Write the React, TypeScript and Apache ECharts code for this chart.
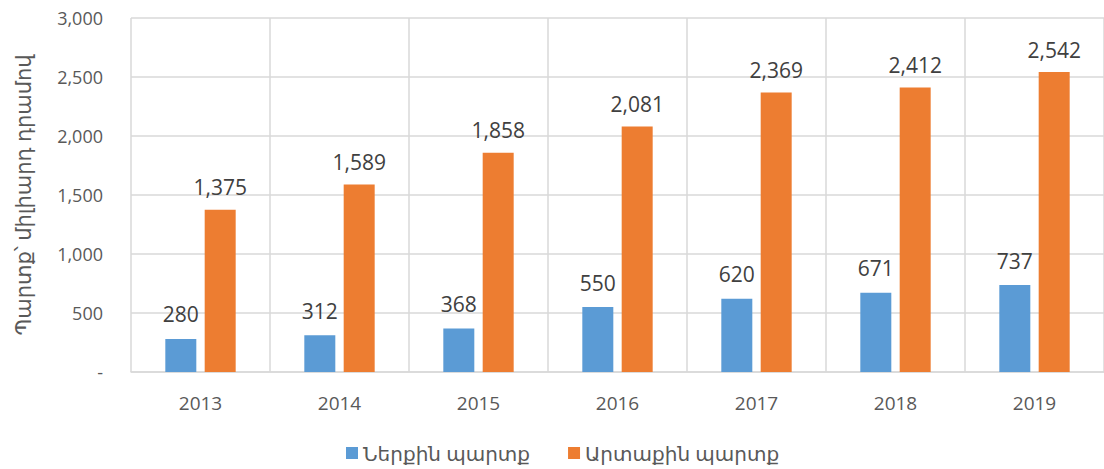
import React, { useEffect, useRef } from "react";
import * as echarts from "echarts";

const years = ["2013", "2014", "2015", "2016", "2017", "2018", "2019"];
const domestic = [280, 312, 368, 550, 620, 671, 737];
const external = [1375, 1589, 1858, 2081, 2369, 2412, 2542];
const seriesNames = ["Ներքին պարտք", "Արտաքին պարտք"];
const yAxisName = "Պարտք՝ միլիարդ դրամով";

const FONT = "'Open Sans', 'DejaVu Sans', sans-serif";

const fmt = (v: number) => (v === 0 ? "-" : v.toLocaleString("en-US"));

export default function App() {
  const ref = useRef<HTMLDivElement>(null);
  useEffect(() => {
    if (!ref.current) return;
    const chart = echarts.init(ref.current, null, { renderer: "svg" });
    chart.setOption({
      animation: false,
      textStyle: { fontFamily: FONT },
      grid: { left: 131, top: 18, width: 976, height: 354, containLabel: false },
      legend: {
        bottom: 1,
        left: 341,
        itemWidth: 12,
        itemHeight: 12,
        itemGap: 38,
        icon: "rect",
        textStyle: { fontSize: 20, color: "#595959", fontFamily: FONT },
        data: seriesNames,
      },
      xAxis: {
        type: "category",
        data: years,
        axisLine: { show: true, lineStyle: { color: "#d9d9d9", width: 1.5 } },
        axisTick: { show: false },
        splitLine: { show: true, lineStyle: { color: "#d9d9d9", width: 1.5 } },
        axisLabel: { color: "#595959", fontSize: 19, margin: 21, fontFamily: FONT },
      },
      yAxis: {
        type: "value",
        min: 0,
        max: 3000,
        interval: 500,
        name: yAxisName,
        nameLocation: "middle",
        nameGap: 98,
        nameTextStyle: { color: "#595959", fontSize: 21, fontFamily: FONT },
        axisLine: { show: false },
        axisTick: { show: false },
        splitLine: { show: true, lineStyle: { color: "#d9d9d9", width: 1.5 } },
        axisLabel: {
          color: "#595959",
          fontSize: 18,
          margin: 28,
          fontFamily: FONT,
          formatter: (v: number) => fmt(v),
        },
      },
      series: [
        {
          name: seriesNames[0],
          type: "bar",
          data: domestic,
          barWidth: 31,
          barGap: "27%",
          itemStyle: { color: "#5b9bd5" },
          label: {
            show: true,
            position: "top",
            distance: 14,
            color: "#404040",
            fontSize: 21,
            fontFamily: FONT,
            formatter: (p: any) => fmt(p.value),
          },
        },
        {
          name: seriesNames[1],
          type: "bar",
          data: external,
          barWidth: 31,
          barGap: "27%",
          itemStyle: { color: "#ed7d31" },
          label: {
            show: true,
            position: "top",
            distance: 12,
            color: "#404040",
            fontSize: 21,
            fontFamily: FONT,
            formatter: (p: any) => fmt(p.value),
          },
        },
      ],
    });
    return () => chart.dispose();
  }, []);
  return (
    <div
      ref={ref}
      style={{ position: "fixed", left: 0, top: 0, width: 1104, height: 469, background: "#fff" }}
    />
  );
}
